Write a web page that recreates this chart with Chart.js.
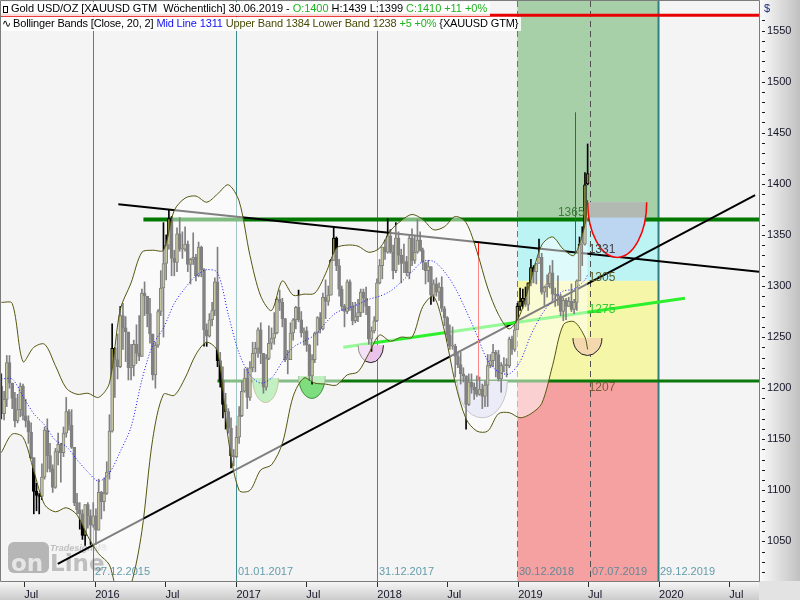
<!DOCTYPE html>
<html>
<head>
<meta charset="utf-8">
<script src="https://cdn.jsdelivr.net/npm/chart.js@4.4.1/dist/chart.umd.min.js"></script>
<style>
  html, body { margin: 0; padding: 0; background: #f4f4f4; }
  #wrap { position: relative; width: 800px; height: 600px; overflow: hidden; }
  canvas { display: block; }
  .hdr { position: absolute; left: 1px; height: 14px; line-height: 14px; padding-right: 3px;
         background: rgba(255,255,255,0.85); color: #000; white-space: nowrap;
         font: 11px "Liberation Sans", Arial, sans-serif; }
  #hdr1 { top: 2px; letter-spacing: -0.05px; }
  #hdr2 { top: 17px; letter-spacing: -0.15px; }
  .g { color: #1fb41f; }
  .b { color: #1010ee; }
  .o { color: #4a4a08; }
  .ico { display: inline-block; width: 3px; height: 5px; border: 1px solid #000; margin: 0 3px 0 2px; vertical-align: -1px; }
  .wave { font-family: "DejaVu Sans", sans-serif; font-size: 11px; margin: 0 2px 0 1px; }
</style>
</head>
<body>
<div id="wrap">
  <canvas id="chart" width="800" height="600"></canvas>
  <div class="hdr" id="hdr1"></div>
  <div class="hdr" id="hdr2"></div>
</div>
<script>
(function () {
    "use strict";

    // weekly bars, first bar is the week ending 03.05.2015
    const firstWeek = "2015-05-03";
    const open = [
        1202, 1175, 1189, 1225, 1205, 1190, 1168, 1179, 1202, 1173, 1168, 1157, 1132, 1099, 1095, 1094, 1113, 1159, 1134, 1121, 1103, 1138, 1145, 1137, 1156, 1177, 1164, 1142, 1088, 1081, 1077, 1056, 1086, 1075, 1066, 1075,
        1061, 1098, 1089, 1097, 1118, 1158, 1239, 1228, 1221, 1271, 1259, 1255, 1220, 1222, 1243, 1234, 1231, 1293, 1290, 1273, 1253, 1213, 1242, 1275, 1298, 1322, 1340, 1366, 1327, 1323, 1351, 1336, 1336, 1341, 1321, 1326, 1328, 1310, 1338, 1316, 1257, 1251, 1267, 1276, 1304, 1227, 1208, 1184, 1177, 1161, 1134, 1133,
        1152, 1173, 1197, 1210, 1191, 1220, 1234, 1239, 1257, 1234, 1201, 1229, 1244, 1249, 1254, 1287, 1284, 1268, 1228, 1228, 1254, 1267, 1279, 1267, 1254, 1256, 1242, 1212, 1228, 1254, 1269, 1258, 1289, 1285, 1291, 1325, 1347, 1320, 1297, 1280, 1275, 1304, 1280, 1266, 1270, 1274, 1294, 1288, 1280, 1248, 1256, 1266,
        1303, 1320, 1338, 1333, 1349, 1333, 1315, 1347, 1330, 1322, 1324, 1313, 1347, 1325, 1333, 1345, 1335, 1323, 1315, 1319, 1291, 1302, 1294, 1299, 1278, 1269, 1252, 1241, 1241, 1231, 1223, 1214, 1212, 1184, 1206, 1201, 1198, 1194, 1199, 1192, 1203, 1222, 1227, 1235, 1233, 1209, 1222, 1223, 1222, 1248, 1238, 1257,
        1280, 1285, 1288, 1282, 1303, 1318, 1314, 1322, 1328, 1294, 1299, 1302, 1313, 1292, 1291, 1290, 1275, 1286, 1280, 1285, 1277, 1284, 1305, 1341, 1341, 1400
    ];
    const high = [
        1214, 1197, 1232, 1232, 1205, 1196, 1194, 1205, 1204, 1189, 1173, 1166, 1132, 1107, 1097, 1126, 1162, 1170, 1146, 1125, 1141, 1156, 1146, 1162, 1191, 1179, 1179, 1142, 1097, 1088, 1081, 1086, 1088, 1081, 1088, 1082,
        1111, 1099, 1112, 1128, 1174, 1263, 1240, 1253, 1280, 1283, 1270, 1255, 1243, 1247, 1262, 1271, 1297, 1304, 1290, 1288, 1253, 1245, 1277, 1315, 1362, 1350, 1375, 1368, 1335, 1357, 1367, 1353, 1358, 1344, 1327, 1352, 1331, 1343, 1339, 1317, 1263, 1273, 1284, 1308, 1338, 1235, 1221, 1195, 1180, 1171, 1140, 1163,
        1182, 1207, 1219, 1220, 1226, 1245, 1245, 1259, 1264, 1234, 1233, 1261, 1259, 1274, 1289, 1296, 1288, 1268, 1237, 1264, 1268, 1280, 1296, 1275, 1259, 1260, 1243, 1233, 1255, 1270, 1274, 1293, 1306, 1300, 1326, 1357, 1348, 1326, 1300, 1282, 1306, 1306, 1284, 1284, 1287, 1297, 1297, 1299, 1280, 1260, 1270, 1307,
        1326, 1338, 1345, 1366, 1355, 1340, 1362, 1353, 1336, 1341, 1329, 1350, 1356, 1349, 1365, 1353, 1337, 1323, 1325, 1319, 1306, 1308, 1303, 1309, 1280, 1270, 1262, 1260, 1243, 1235, 1235, 1220, 1212, 1214, 1214, 1205, 1212, 1211, 1204, 1207, 1233, 1233, 1243, 1237, 1237, 1225, 1230, 1229, 1250, 1251, 1262, 1283,
        1298, 1297, 1299, 1303, 1326, 1320, 1322, 1346, 1332, 1300, 1311, 1320, 1325, 1298, 1310, 1292, 1288, 1288, 1289, 1302, 1287, 1306, 1348, 1358, 1411, 1439
    ];
    const low = [
        1170, 1169, 1182, 1200, 1180, 1162, 1166, 1172, 1169, 1162, 1146, 1131, 1077, 1080, 1077, 1091, 1111, 1118, 1118, 1098, 1102, 1125, 1108, 1133, 1152, 1159, 1141, 1085, 1077, 1062, 1052, 1046, 1063, 1047, 1064, 1047,
        1061, 1072, 1080, 1096, 1111, 1157, 1191, 1209, 1220, 1238, 1226, 1208, 1208, 1212, 1224, 1227, 1231, 1271, 1260, 1244, 1208, 1200, 1240, 1271, 1250, 1306, 1336, 1310, 1310, 1314, 1334, 1327, 1334, 1314, 1302, 1321, 1305, 1309, 1309, 1241, 1241, 1250, 1261, 1271, 1221, 1201, 1171, 1160, 1156, 1122, 1124, 1132,
        1146, 1172, 1196, 1180, 1188, 1216, 1216, 1230, 1224, 1195, 1198, 1228, 1238, 1243, 1253, 1276, 1260, 1226, 1214, 1228, 1247, 1258, 1265, 1250, 1242, 1236, 1208, 1204, 1225, 1242, 1254, 1257, 1268, 1281, 1291, 1325, 1315, 1290, 1276, 1260, 1273, 1276, 1262, 1264, 1265, 1270, 1274, 1272, 1243, 1236, 1254, 1265,
        1302, 1307, 1326, 1332, 1332, 1307, 1313, 1321, 1303, 1313, 1310, 1307, 1320, 1322, 1332, 1334, 1316, 1302, 1304, 1282, 1285, 1290, 1286, 1275, 1261, 1246, 1238, 1238, 1211, 1220, 1204, 1206, 1160, 1183, 1195, 1189, 1192, 1193, 1180, 1182, 1182, 1220, 1221, 1211, 1207, 1196, 1216, 1211, 1220, 1233, 1236, 1257,
        1276, 1278, 1280, 1276, 1300, 1303, 1302, 1322, 1292, 1281, 1289, 1298, 1286, 1280, 1281, 1271, 1266, 1267, 1280, 1275, 1273, 1276, 1305, 1320, 1340, 1399
    ];
    const close = [
        1175, 1189, 1225, 1205, 1190, 1168, 1179, 1202, 1173, 1168, 1157, 1132, 1099, 1095, 1094, 1113, 1159, 1134, 1121, 1103, 1138, 1145, 1137, 1156, 1177, 1164, 1142, 1088, 1081, 1077, 1056, 1086, 1075, 1066, 1075, 1061,
        1098, 1089, 1097, 1118, 1158, 1239, 1228, 1221, 1271, 1259, 1255, 1220, 1222, 1243, 1234, 1231, 1293, 1290, 1273, 1253, 1213, 1242, 1275, 1298, 1322, 1340, 1366, 1327, 1323, 1351, 1336, 1336, 1341, 1321, 1326, 1328, 1310, 1338, 1316, 1257, 1251, 1267, 1276, 1304, 1227, 1208, 1184, 1177, 1161, 1134, 1133, 1152,
        1173, 1197, 1210, 1191, 1220, 1234, 1239, 1257, 1234, 1201, 1229, 1244, 1249, 1254, 1287, 1284, 1268, 1228, 1228, 1254, 1267, 1279, 1267, 1254, 1256, 1242, 1212, 1228, 1254, 1269, 1258, 1289, 1285, 1291, 1325, 1347, 1320, 1297, 1280, 1275, 1304, 1280, 1266, 1270, 1274, 1294, 1288, 1280, 1248, 1256, 1266, 1303,
        1320, 1338, 1333, 1349, 1333, 1315, 1347, 1330, 1322, 1324, 1313, 1347, 1325, 1333, 1345, 1335, 1323, 1315, 1319, 1291, 1302, 1294, 1299, 1278, 1269, 1252, 1241, 1241, 1231, 1223, 1214, 1212, 1184, 1206, 1201, 1198, 1194, 1199, 1192, 1203, 1222, 1227, 1235, 1233, 1209, 1222, 1223, 1222, 1248, 1238, 1257, 1280,
        1285, 1288, 1282, 1303, 1318, 1314, 1322, 1328, 1294, 1299, 1302, 1313, 1292, 1291, 1290, 1275, 1286, 1280, 1285, 1277, 1284, 1305, 1341, 1341, 1399, 1410
    ];

    // Bollinger band, every 4th bar
    const bandWeeks = [0, 4, 8, 12, 16, 20, 24, 28, 32, 36, 40, 44, 48, 52, 56, 60, 64, 68, 72, 76, 80, 84, 88, 92, 96, 100, 104, 108, 112, 116, 120, 124, 128, 132, 136, 140, 144, 148, 152, 156, 160, 164, 168, 172, 176, 180, 184, 188, 192, 196, 200, 204, 208, 212, 216, 217];
    const bandUpper = [1284, 1283, 1226, 1240, 1243, 1222, 1200, 1194, 1195, 1191, 1205, 1277, 1303, 1333, 1335, 1335, 1374, 1386, 1388, 1382, 1390, 1399, 1383, 1330, 1290, 1276, 1305, 1291, 1292, 1293, 1312, 1337, 1340, 1339, 1333, 1337, 1354, 1364, 1370, 1365, 1355, 1358, 1368, 1362, 1334, 1298, 1272, 1258, 1272, 1306, 1340, 1348, 1336, 1330, 1360, 1384];
    const bandMid = [1209, 1209, 1192, 1175, 1164, 1149, 1143, 1130, 1118, 1109, 1117, 1138, 1162, 1208, 1242, 1259, 1283, 1298, 1310, 1316, 1313, 1272, 1234, 1213, 1205, 1210, 1226, 1240, 1246, 1252, 1264, 1274, 1278, 1282, 1287, 1290, 1295, 1304, 1314, 1324, 1324, 1314, 1298, 1276, 1252, 1227, 1216, 1214, 1226, 1252, 1272, 1286, 1295, 1297, 1306, 1311];
    const bandLower = [1137, 1155, 1152, 1119, 1086, 1079, 1083, 1076, 1055, 1038, 1027, 990, 1008, 1060, 1150, 1194, 1193, 1210, 1233, 1245, 1236, 1150, 1100, 1100, 1120, 1125, 1146, 1192, 1210, 1205, 1204, 1203, 1213, 1216, 1234, 1252, 1246, 1250, 1250, 1280, 1290, 1256, 1205, 1170, 1158, 1158, 1175, 1176, 1171, 1175, 1185, 1222, 1262, 1265, 1250, 1238];

    const timeTicks = ["2015-07-01", "2016-01-01", "2016-07-01", "2017-01-01", "2017-07-01", "2018-01-01", "2018-07-01", "2019-01-01", "2019-07-01", "2020-01-01", "2020-07-01"];
    const priceTicks = [1050, 1100, 1150, 1200, 1250, 1300, 1350, 1400, 1450, 1500, 1550];

    // drawings on the chart
    const dateMarks = ["2015-12-27", "2017-01-01", "2017-12-31", "2018-12-30", "2019-07-07", "2019-12-29"];
    const zoneFrom = "2018-12-30";
    const zoneTo = "2019-12-29";
    const zoneLevels = [1365, 1305, 1207];
    const levelLabels = [1365, 1331, 1305, 1275, 1207];
    const redLevel = 1565;
    const greenLevels = [["2016-05-05", 1365], ["2016-11-13", 1207]];
    const resistance = [["2016-03-01", 1380], ["2020-09-16", 1314]];
    const support = [["2015-09-26", 1028], ["2020-09-06", 1389]];
    const greenTrend = [["2017-10-05", 1240], ["2020-03-08", 1288]];
    const redMarks = [["2018-09-19", 1342, 1205], ["2019-05-29", 1470, 1332]];
    const bowls = [
        ["2017-02-12", "2017-04-20", 1210, 1186],
        ["2017-06-11", "2017-08-19", 1212, 1190],
        ["2017-11-12", "2018-01-17", 1242, 1225],
        ["2018-07-27", "2018-12-04", 1207, 1171],
        ["2019-05-23", "2019-08-06", 1249, 1232]
    ];
    const targetBowl = ["2019-06-30", "2019-11-30", 1382, 1328];

    const FONT = "'Liberation Sans', Arial, sans-serif";
    const DAY = 864e5;
    const ms = (d) => Date.parse(d + "T00:00:00Z");
    const weekDates = close.map((_, i) => ms(firstWeek) + i * 7 * DAY);
    const n = close.length;

    function fmtDate(t) {
        const d = new Date(t);
        return String(d.getUTCDate()).padStart(2, "0") + "." + String(d.getUTCMonth() + 1).padStart(2, "0") + "." + d.getUTCFullYear();
    }
    const sign = (v) => (v >= 0 ? "+" : "") + v;

    const chg = close[n - 1] - close[n - 2];
    document.getElementById("hdr1").innerHTML =
        `<span class="ico"></span>Gold USD/OZ [XAUUSD GTM&nbsp; Wöchentlich] ${fmtDate(weekDates[n - 1])} - ` +
        `<span class="g">O:${open[n - 1]}</span> H:${high[n - 1]} L:${low[n - 1]} ` +
        `<span class="g">C:${close[n - 1]} ${sign(chg)} ${sign(Math.trunc(chg / close[n - 2] * 100))}%</span>`;
    const m = bandMid.length;
    const midChg = bandMid[m - 1] - bandMid[m - 2];
    document.getElementById("hdr2").innerHTML =
        `<span class="wave">∿</span>Bollinger Bands [Close, 20, 2] <span class="b">Mid Line ${bandMid[m - 1]}</span> ` +
        `<span class="o">Upper Band ${bandUpper[m - 1]} Lower Band ${bandLower[m - 1]}</span> ` +
        `<span class="g">${sign(midChg)} ${sign(Math.trunc(midChg / bandMid[m - 2] * 100))}%</span> {XAUUSD GTM}`;

    const bandPts = (vals) => bandWeeks.map((w, k) => ({ x: weekDates[w], y: vals[k] }));

    const drawings = {
        id: "drawings",
        beforeDraw(chart) {
            const { ctx, chartArea: a, width, height } = chart;
            ctx.save();
            ctx.fillStyle = "#f4f4f4";
            ctx.fillRect(0, 0, width, height);
            let g = ctx.createLinearGradient(a.right, 0, width, 0);
            g.addColorStop(0, "#fcfcfc");
            g.addColorStop(1, "#c0c0c0");
            ctx.fillStyle = g;
            ctx.fillRect(a.right, 0, width - a.right, a.bottom);
            g = ctx.createLinearGradient(0, a.bottom, 0, height);
            g.addColorStop(0, "#f8f8f8");
            g.addColorStop(1, "#cbcbcb");
            ctx.fillStyle = g;
            ctx.fillRect(0, a.bottom, a.right, height - a.bottom);
            ctx.fillStyle = "#e3e3e3";
            ctx.fillRect(a.right, a.bottom, width - a.right, height - a.bottom);
            ctx.restore();
        },
        beforeDatasetsDraw(chart) {
            const { ctx, chartArea: a } = chart;
            const X = (v) => chart.scales.x.getPixelForValue(typeof v === "string" ? ms(v) : v);
            const Y = (v) => chart.scales.y.getPixelForValue(v);
            const seg = (x1, y1, x2, y2, color, w, dash) => {
                ctx.beginPath();
                ctx.setLineDash(dash || []);
                ctx.strokeStyle = color;
                ctx.lineWidth = w;
                ctx.moveTo(x1, y1);
                ctx.lineTo(x2, y2);
                ctx.stroke();
                ctx.setLineDash([]);
            };
            ctx.save();
            ctx.beginPath();
            ctx.rect(a.left, a.top, a.right - a.left, a.bottom - a.top);
            ctx.clip();

            // target zones
            const zx0 = X(zoneFrom), zx1 = X(zoneTo);
            const edges = [a.top, ...zoneLevels.map(Y), a.bottom];
            ["#a8d0a8", "#bcf4f4", "#f6f6a9", "#f5a1a1"].forEach((c, k) => {
                ctx.fillStyle = c;
                ctx.fillRect(zx0, edges[k], zx1 - zx0, edges[k + 1] - edges[k]);
            });

            // watermark
            ctx.save();
            ctx.globalAlpha = 0.8;
            ctx.fillStyle = "#a6a6a6";
            ctx.beginPath();
            if (ctx.roundRect) ctx.roundRect(a.left + 7, a.bottom - 39, 41, 31, 6); else ctx.rect(a.left + 7, a.bottom - 39, 41, 31);
            ctx.fill();
            ctx.font = "bold 23px 'DejaVu Sans', sans-serif";
            ctx.fillStyle = "#f2f2f2";
            ctx.fillText("on", a.left + 10, a.bottom - 10);
            ctx.fillStyle = "#b2b2b2";
            ctx.fillText("Line", a.left + 49, a.bottom - 10);
            ctx.font = "bold italic 9px " + FONT;
            ctx.fillText("Tradesignal®", a.left + 49, a.bottom - 30);
            ctx.restore();

            // date lines
            const markStyle = [
                ["#3d8c8c", 1, []], ["#3d8c8c", 1, []], ["#3d8c8c", 1, []],
                ["#3a9070", 1, [6, 4]], ["#505050", 1, [6, 4]], ["#2f7f7f", 2, []]
            ];
            dateMarks.forEach((d, k) => {
                const x = Math.round(X(d)) + 0.5;
                seg(x, a.top, x, a.bottom, markStyle[k][0], markStyle[k][1], markStyle[k][2]);
            });

            // horizontal levels
            seg(a.left, Y(redLevel), a.right, Y(redLevel), "#e80000", 3);
            seg(X(greenLevels[0][0]), Y(greenLevels[0][1]), a.right, Y(greenLevels[0][1]), "#007800", 4);
            seg(X(greenLevels[1][0]), Y(greenLevels[1][1]), a.right, Y(greenLevels[1][1]), "#0a780a", 3);

            // trend lines
            seg(X(resistance[0][0]), Y(resistance[0][1]), X(resistance[1][0]), Y(resistance[1][1]), "#000", 2);
            seg(X(support[0][0]), Y(support[0][1]), X(support[1][0]), Y(support[1][1]), "#000", 2);
            seg(X(greenTrend[0][0]), Y(greenTrend[0][1]), X(greenTrend[1][0]), Y(greenTrend[1][1]), "#2cf02c", 3);

            redMarks.forEach(([d, top, bot]) => {
                const x = Math.round(X(d)) + 0.5;
                seg(x, Y(top), x, Y(bot), "#ff1010", 1);
            });

            // bowls
            const fills = ["#86e086", "#7ede7e", "#eac2ea", "#d8d8f0", "#f4d8ae"];
            const strokes = ["#8a8a40", "#3c8c3c", "#202020", "#8c8c8c", "#202020"];
            bowls.forEach(([d1, d2, top, bot], k) => {
                const x1 = X(d1), x2 = X(d2);
                const cx = (x1 + x2) / 2, rx = (x2 - x1) / 2, cy = Y(top), ry = Y(bot) - Y(top);
                ctx.beginPath();
                ctx.ellipse(cx, cy, rx, ry, 0, 0, Math.PI);
                ctx.closePath();
                ctx.fillStyle = fills[k];
                ctx.fill();
                ctx.beginPath();
                ctx.ellipse(cx, cy, rx, ry, 0, 0, Math.PI);
                ctx.strokeStyle = strokes[k];
                ctx.lineWidth = 1;
                ctx.stroke();
            });

            // projected target bowl
            {
                const [d1, d2, top, bot] = targetBowl;
                const x1 = X(d1), x2 = X(d2);
                const cx = (x1 + x2) / 2, rx = (x2 - x1) / 2, cy = Y(top), ry = Y(bot) - Y(top);
                ctx.beginPath();
                ctx.ellipse(cx, cy, rx, ry, 0, 0, Math.PI);
                ctx.closePath();
                ctx.fillStyle = "#bcd6f2";
                ctx.fill();
                ctx.fillStyle = "#b2b8b2";
                ctx.fillRect(x1, Y(top), x2 - x1, Y(zoneLevels[0]) - Y(top) - 2);
                ctx.beginPath();
                ctx.ellipse(cx, cy, rx, ry, 0, 0, Math.PI);
                ctx.strokeStyle = "#ff0000";
                ctx.lineWidth = 1.5;
                ctx.stroke();
            }
            ctx.restore();
        },
        afterDatasetsDraw(chart) {
            const { ctx, chartArea: a } = chart;
            const X = (v) => chart.scales.x.getPixelForValue(typeof v === "string" ? ms(v) : v);
            const Y = (v) => chart.scales.y.getPixelForValue(v);
            ctx.save();

            // level labels next to the last bar
            const lx = X(weekDates[n - 1]);
            const labelStyle = [
                ["#3c7c3c", -7, "right", -3], ["#404040", -5, "left", 1], ["#5e5e26", -3, "left", 1],
                ["#34cc34", -2, "left", 1], ["#7a5a30", 7, "left", 1]
            ];
            ctx.font = "12px " + FONT;
            ctx.textBaseline = "middle";
            levelLabels.forEach((v, k) => {
                const [c, dy, al, dx] = labelStyle[k];
                ctx.fillStyle = c;
                ctx.textAlign = al;
                ctx.fillText(String(v), lx + dx, Y(v) + dy);
            });

            // date labels at the foot of the date lines
            ctx.font = "11px " + FONT;
            ctx.textAlign = "left";
            ctx.fillStyle = "rgba(50,125,145,0.75)";
            dateMarks.forEach((d) => {
                ctx.fillText(fmtDate(ms(d)), Math.round(X(d)) + 2, a.bottom - 9);
            });

            // frame
            ctx.strokeStyle = "#7c7c7c";
            ctx.lineWidth = 1;
            ctx.beginPath();
            ctx.moveTo(a.left - 0.5, a.bottom + 0.5);
            ctx.lineTo(a.left - 0.5, a.top - 0.5);
            ctx.lineTo(a.right + 0.5, a.top - 0.5);
            ctx.lineTo(a.right + 0.5, a.bottom + 0.5);
            ctx.lineTo(a.left - 0.5, a.bottom + 0.5);
            ctx.stroke();

            // price axis minor ticks (the top one is left free for the currency sign)
            ctx.strokeStyle = "#1a1a2a";
            for (let v = Math.ceil(chart.scales.y.min / 10) * 10; v <= priceTicks[priceTicks.length - 1] + 10; v += 10) {
                const y = Math.round(Y(v)) + 0.5;
                ctx.beginPath();
                ctx.moveTo(a.right + 3, y);
                ctx.lineTo(a.right + 6, y);
                ctx.stroke();
            }
            ctx.fillStyle = "#1c2c78";
            ctx.font = "11px " + FONT;
            ctx.textAlign = "left";
            ctx.textBaseline = "middle";
            ctx.fillText("$", a.right + 5, 9);
            ctx.restore();
        }
    };

    new Chart(document.getElementById("chart"), {
        type: "bar",
        data: {
            datasets: [
                {
                    label: "Range",
                    data: weekDates.map((t, i) => ({ x: t, y: [low[i], high[i]] })),
                    backgroundColor: "#000",
                    barThickness: 1,
                    grouped: false,
                    order: 4
                },
                {
                    label: "Gold USD/OZ",
                    data: weekDates.map((t, i) => ({ x: t, y: [open[i], close[i]] })),
                    backgroundColor: close.map((c, i) => (c >= open[i] ? "#8c8c3e" : "rgba(0,0,0,0)")),
                    borderColor: "#000",
                    borderWidth: 1,
                    borderSkipped: false,
                    barThickness: 3,
                    minBarLength: 1,
                    grouped: false,
                    order: 3
                },
                {
                    type: "line",
                    label: "Upper Band",
                    data: bandPts(bandUpper),
                    borderColor: "#565610",
                    borderWidth: 1,
                    pointRadius: 0,
                    tension: 0.3,
                    fill: "+1",
                    backgroundColor: "rgba(255,255,255,0.5)",
                    order: 2
                },
                {
                    type: "line",
                    label: "Lower Band",
                    data: bandPts(bandLower),
                    borderColor: "#565610",
                    borderWidth: 1,
                    pointRadius: 0,
                    tension: 0.3,
                    fill: false,
                    order: 1
                },
                {
                    type: "line",
                    label: "Mid Line",
                    data: bandPts(bandMid),
                    borderColor: "#1414ff",
                    borderWidth: 1,
                    borderDash: [1, 2],
                    pointRadius: 0,
                    tension: 0.3,
                    fill: false,
                    order: 0
                }
            ]
        },
        options: {
            responsive: false,
            animation: false,
            devicePixelRatio: 1,
            events: [],
            layout: { padding: { top: 1, left: 1, right: 0, bottom: 0 } },
            plugins: { legend: { display: false }, tooltip: { enabled: false } },
            scales: {
                x: {
                    type: "linear",
                    min: ms("2015-05-02"),
                    max: ms("2020-09-16"),
                    offset: false,
                    afterBuildTicks: (s) => { s.ticks = timeTicks.map((d) => ({ value: ms(d) })); },
                    afterFit: (s) => { s.height = 19; s.paddingLeft = 0; s.paddingRight = 0; },
                    ticks: {
                        autoSkip: false,
                        maxRotation: 0,
                        align: "start",
                        padding: 1,
                        color: "#141428",
                        font: { family: FONT, size: 11 },
                        callback: (v) => {
                            const d = new Date(v);
                            return d.getUTCMonth() === 0 ? String(d.getUTCFullYear()) : "Jul";
                        }
                    },
                    grid: { display: true, drawOnChartArea: false, drawTicks: true, tickLength: 6, color: "#2a2a2a", offset: false },
                    border: { display: false }
                },
                y: {
                    type: "linear",
                    position: "right",
                    min: 1011.3,
                    max: 1578.9,
                    afterBuildTicks: (s) => { s.ticks = priceTicks.map((v) => ({ value: v })); },
                    afterFit: (s) => { s.width = 41; s.paddingTop = 0; s.paddingBottom = 0; },
                    ticks: { padding: 8, color: "#141428", font: { family: FONT, size: 11 }, callback: (v) => String(v) },
                    grid: { display: false, drawTicks: false },
                    border: { display: false }
                }
            }
        },
        plugins: [drawings]
    });
})();
</script>
</body>
</html>
